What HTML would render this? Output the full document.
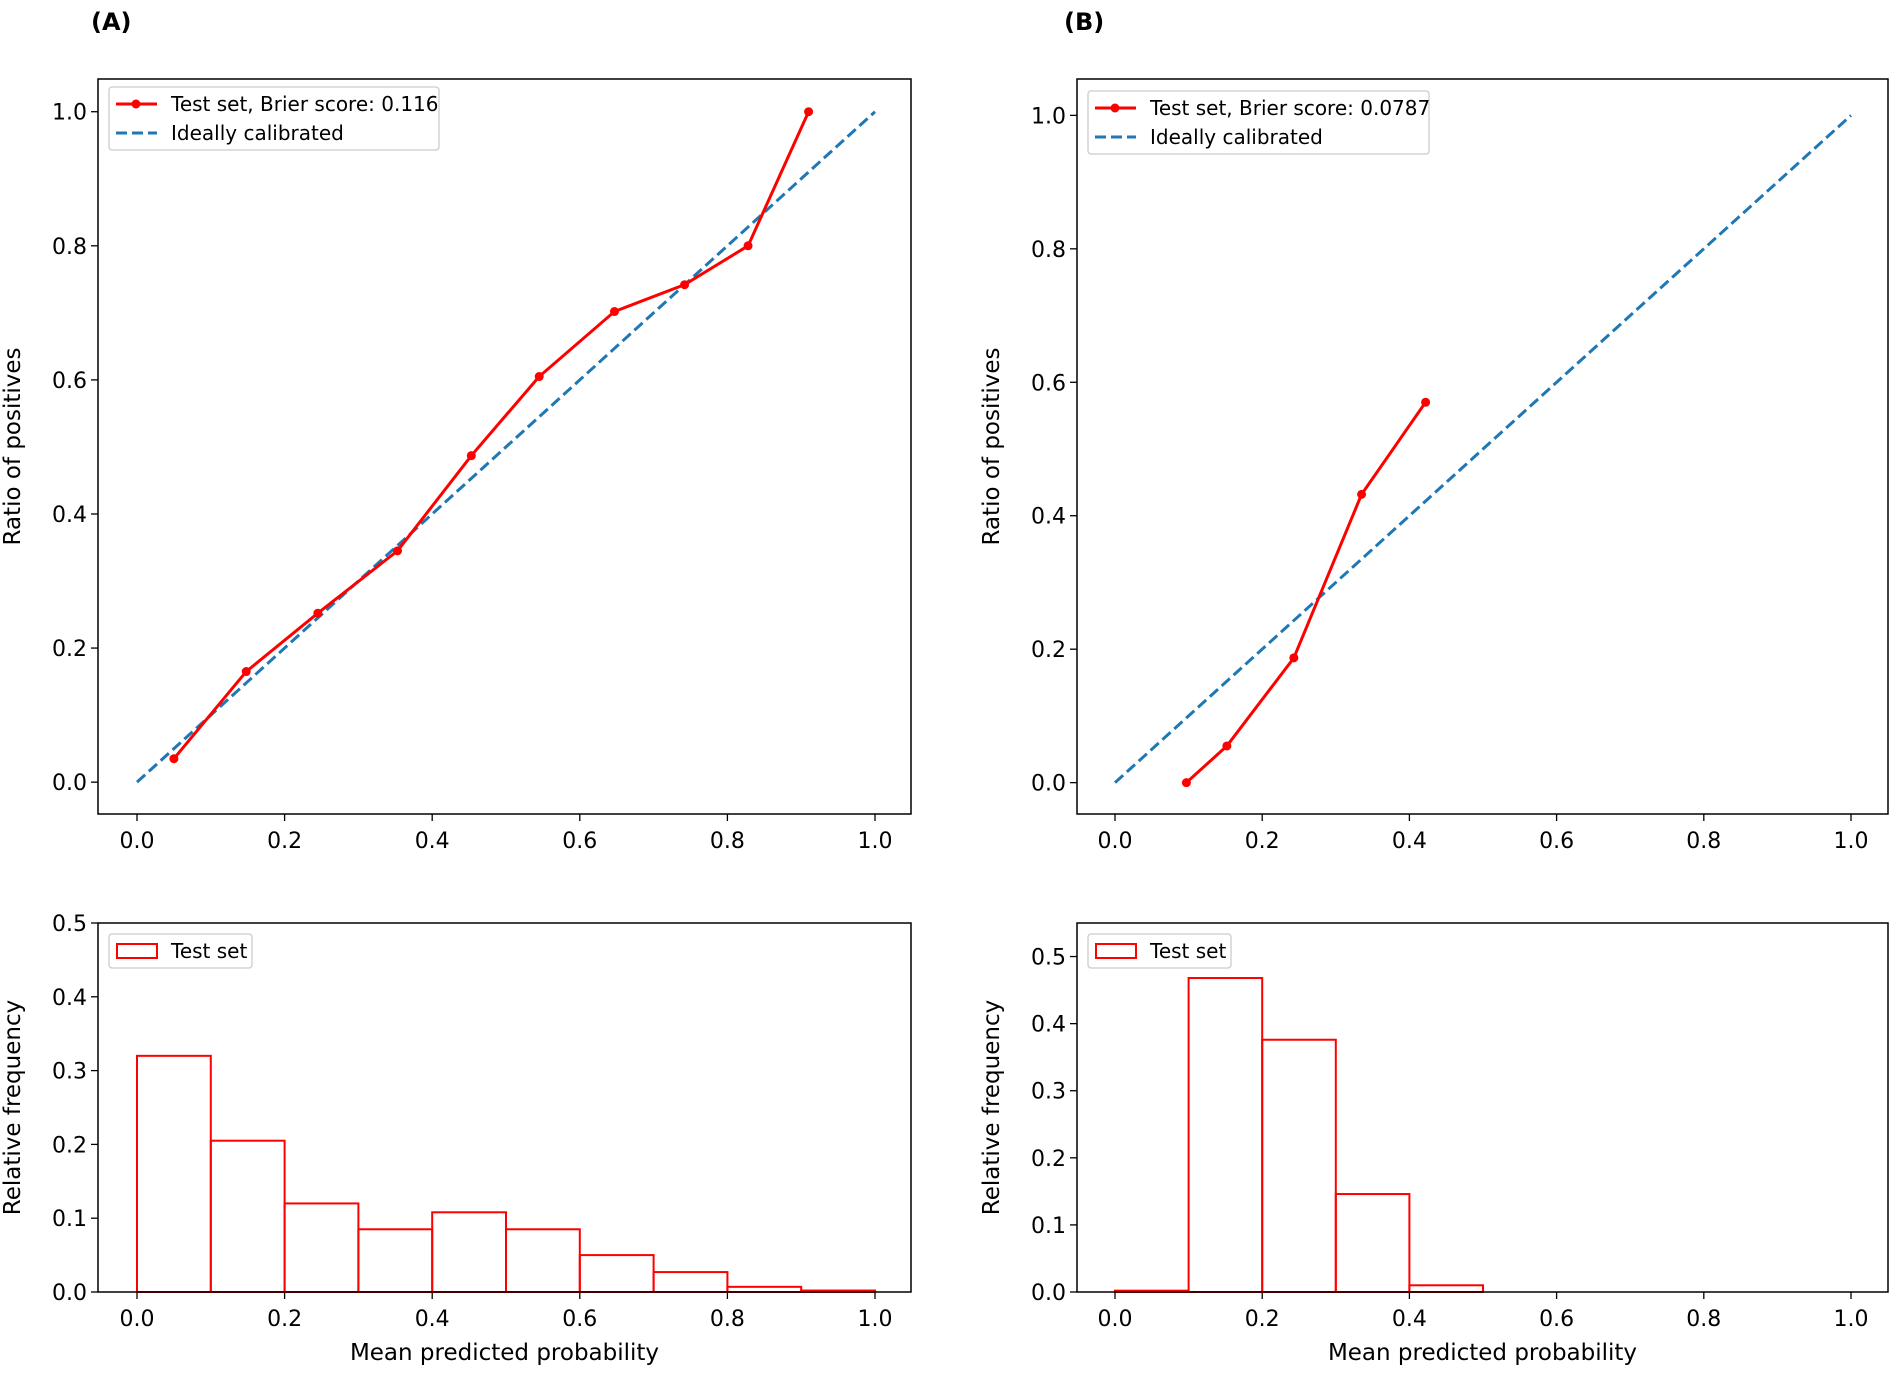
<!DOCTYPE html>
<html><head><meta charset="utf-8"><style>
body{margin:0;background:#fff}
svg{display:block;font-family:"DejaVu Sans","Liberation Sans",sans-serif}
</style></head><body>
<svg id="fig" width="1900" height="1376" viewBox="0 0 1900 1376" xmlns="http://www.w3.org/2000/svg">
<rect width="1900" height="1376" fill="#fff"/>
<text x="91" y="30" font-size="24" font-weight="bold">(A)</text>
<text x="1064" y="30" font-size="24" font-weight="bold">(B)</text>
</svg>
<script>
const calibXA = [0.05,0.148,0.245,0.353,0.453,0.545,0.647,0.742,0.828,0.91];
const calibYA = [0.035,0.165,0.252,0.345,0.487,0.605,0.702,0.742,0.8,1.0];
const calibXB = [0.097,0.152,0.243,0.335,0.422];
const calibYB = [0.0,0.055,0.187,0.432,0.57];
const histA = [0.32,0.205,0.12,0.085,0.108,0.085,0.05,0.027,0.007,0.002];
const histB = [0.002,0.468,0.376,0.146,0.01,0,0,0,0,0];
const binEdges = [0,0.1,0.2,0.3,0.4,0.5,0.6,0.7,0.8,0.9,1.0];
const xTicks = [0,0.2,0.4,0.6,0.8,1.0];
const yTicksTop = [0,0.2,0.4,0.6,0.8,1.0];
const yTicksBot = [0,0.1,0.2,0.3,0.4,0.5];
const legendTopA = "Test set, Brier score: 0.116";
const legendTopB = "Test set, Brier score: 0.0787";

const NS="http://www.w3.org/2000/svg";
const svg=document.getElementById('fig');
function mk(tag,attrs,parent){const e=document.createElementNS(NS,tag);for(const k in attrs)e.setAttribute(k,attrs[k]);(parent||svg).appendChild(e);return e;}
function scale(d0,d1,r0,r1){return v=>r0+(v-d0)/(d1-d0)*(r1-r0);}

function axes(name,box,xs,ys,yt,ylab){
  const g=mk('g',{});
  
  
  xTicks.forEach(t=>{
    const l=mk('line',{x1:xs(t),x2:xs(t),y1:box.b,y2:box.b+7,stroke:'#000','stroke-width':1.3},g);
    
    
    const tx=mk('text',{x:xs(t),y:box.b+34,'font-size':22,'text-anchor':'middle'},g);
    
    
    tx.textContent=t.toFixed(1);
  });
  yt.forEach(t=>{
    const l=mk('line',{x1:box.l-7,x2:box.l,y1:ys(t),y2:ys(t),stroke:'#000','stroke-width':1.3},g);
    
    
    const tx=mk('text',{x:box.l-11,y:ys(t)+8,'font-size':22,'text-anchor':'end'},g);
    
    
    tx.textContent=t.toFixed(1);
  });
  const yl=mk('text',{x:0,y:0,'font-size':23,'text-anchor':'middle',transform:`translate(${box.l-78},${(box.t+box.b)/2}) rotate(-90)`},g);
  
  
  yl.textContent=ylab;
  return g;
}
function frame(g,box){
  const r=mk('rect',{x:box.l,y:box.t,width:box.r-box.l,height:box.b-box.t,fill:'none',stroke:'#000','stroke-width':1.5},g);
  
  
}

function calibPanel(name,box,ylim,xsX,xsY,lbl,leg){
  const xs=scale(0,1,box.x0,box.x1);
  const ys=scale(ylim[0],ylim[1],box.b,box.t);
  const g=axes(name,box,xs,ys,yTicksTop,'Ratio of positives');
  const d=mk('line',{x1:xs(0),y1:ys(0),x2:xs(1),y2:ys(1),stroke:'#1f77b4','stroke-width':3,'stroke-dasharray':'11,5'},g);
  
  
  const pts=xsX.map((x,i)=>xs(x)+','+ys(xsY[i])).join(' ');
  const pl=mk('polyline',{points:pts,fill:'none',stroke:'#ff0000','stroke-width':3},g);
  
  
  xsX.forEach((x,i)=>{
    const c=mk('circle',{cx:xs(x),cy:ys(xsY[i]),r:4.5,fill:'#ff0000'},g);
    
    
  });
  frame(g,box);
  const lg=mk('g',{},g);
  
  
  mk('rect',{x:leg.x,y:leg.y,width:leg.w,height:63,rx:3,fill:'#fff',stroke:'#ccc','stroke-width':1.3},lg);
  mk('line',{x1:leg.x+7,x2:leg.x+48,y1:leg.y+17,y2:leg.y+17,stroke:'#ff0000','stroke-width':3},lg);
  mk('circle',{cx:leg.x+27,cy:leg.y+17,r:4.5,fill:'#ff0000'},lg);
  const t1=mk('text',{x:leg.x+62,y:leg.y+24,'font-size':20},lg);t1.textContent=lbl;
  mk('line',{x1:leg.x+7,x2:leg.x+48,y1:leg.y+46,y2:leg.y+46,stroke:'#1f77b4','stroke-width':3,'stroke-dasharray':'11,5'},lg);
  const t2=mk('text',{x:leg.x+62,y:leg.y+53,'font-size':20},lg);t2.textContent='Ideally calibrated';
}

function histPanel(name,box,ylim,vals,leg){
  const xs=scale(0,1,box.x0,box.x1);
  const ys=scale(ylim[0],ylim[1],box.b,box.t);
  const g=axes(name,box,xs,ys,yTicksBot,'Relative frequency');
  vals.forEach((v,i)=>{
    const x0=xs(binEdges[i]),x1=xs(binEdges[i+1]);
    const r=mk('rect',{x:x0,y:ys(v),width:x1-x0,height:ys(0)-ys(v),fill:'none',stroke:'#ff0000','stroke-width':2},g);
    
    
  });
  frame(g,box);
  const xl=mk('text',{x:(box.l+box.r)/2,y:box.b+68,'font-size':23,'text-anchor':'middle'},g);
  
  
  xl.textContent='Mean predicted probability';
  const lg=mk('g',{},g);
  
  
  mk('rect',{x:leg.x,y:leg.y,width:143,height:34,rx:3,fill:'#fff',stroke:'#ccc','stroke-width':1.3},lg);
  mk('rect',{x:leg.x+8,y:leg.y+10,width:40,height:14,fill:'none',stroke:'#ff0000','stroke-width':2},lg);
  const t=mk('text',{x:leg.x+62,y:leg.y+24,'font-size':20},lg);t.textContent='Test set';
}

calibPanel('calibration-plot-a',{l:98,r:911,t:79,b:814,x0:137,x1:875},[-0.0475,1.0488],calibXA,calibYA,legendTopA,{x:109,y:87,w:330});
calibPanel('calibration-plot-b',{l:1077,r:1888,t:79,b:814,x0:1115,x1:1851},[-0.047,1.0545],calibXB,calibYB,legendTopB,{x:1088,y:91,w:341});
histPanel('histogram-a',{l:98,r:911,t:923,b:1292,x0:137,x1:875},[0,0.5],histA,{x:109,y:934});
histPanel('histogram-b',{l:1077,r:1888,t:923,b:1292,x0:1115,x1:1851},[0,0.55],histB,{x:1088,y:934});
</script>
</body></html>
